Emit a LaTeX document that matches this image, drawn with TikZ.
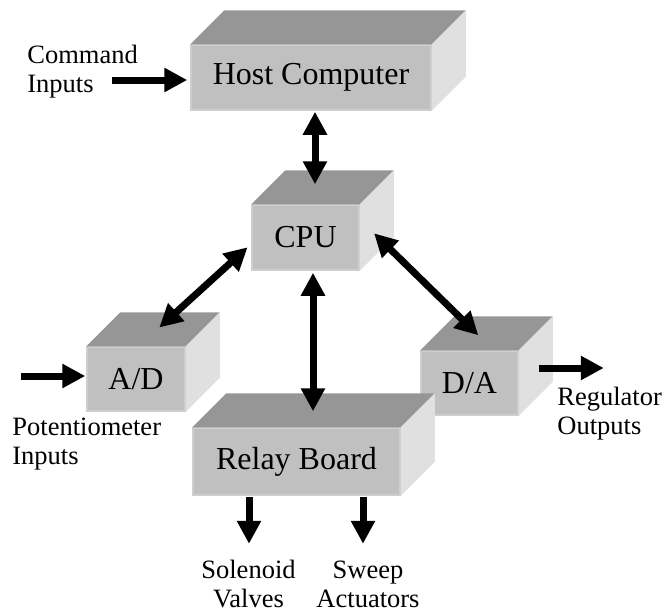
\documentclass[tikz,border=0pt]{standalone}
\usepackage{fontspec}
\setmainfont{Liberation Serif}
\usetikzlibrary{arrows.meta}

\definecolor{frontgray}{RGB}{192,192,192}
\definecolor{topgray}{RGB}{150,150,150}
\definecolor{sidegray}{RGB}{224,224,224}
\definecolor{edgegray}{RGB}{206,206,206}

\begin{document}
\begin{tikzpicture}[x=0.5pt, y=-0.5pt,
  box/.style={fill=frontgray, draw=edgegray, line width=0.75pt, inner sep=0pt,
    font=\fontsize{16}{19}\selectfont},
  lbl/.style={inner sep=0pt, font=\fontsize{13.25}{14.5}\selectfont},
  dbl/.style={{Triangle[length=11.5pt,width=11.5pt]}-{Triangle[length=11.5pt,width=11.5pt]}, line width=3.5pt},
  sgl/.style={-{Triangle[length=11.5pt,width=11.5pt]}, line width=3.5pt}]
  \useasboundingbox (0,0) rectangle (671,611);

  \node[box, minimum width=120pt, minimum height=32.5pt] (host) at (311,77.5) {Host Computer};
  \node[box, minimum width=53.5pt, minimum height=32.5pt] (cpu) at (305.5,237.5) {CPU};
  \node[box, minimum width=49pt, minimum height=32pt] (ad) at (136,379) {A/D};
  \node[box, minimum width=48.5pt, minimum height=32pt] (da) at (469.5,383) {D/A};
  \node[box, minimum width=103.5pt, minimum height=33.5pt] (relay) at (296.5,461.5) {Relay Board};

  \foreach \n in {host,cpu,ad,da,relay} {
    \fill[topgray] (\n.north west) -- ++(17pt,17pt) -- ([shift={(17pt,17pt)}]\n.north east)
      -- (\n.north east) -- cycle;
    \fill[sidegray] (\n.north east) -- ++(17pt,17pt) -- ([shift={(17pt,17pt)}]\n.south east)
      -- (\n.south east) -- cycle;
  }

  \node[lbl, align=left, anchor=north west] (cmd) at (27,45) {Command\\Inputs};
  \node[lbl, align=left, anchor=north west] (pot) at (12,418) {Potentiometer\\Inputs};
  \node[lbl, align=left, anchor=north west] (reg) at (557,387) {Regulator\\Outputs};
  \node[lbl, align=center, anchor=north] (sol) at (248.5,560) {Solenoid\\Valves};
  \node[lbl, align=center, anchor=north] (swp) at (368,561) {Sweep\\Actuators};

  \draw[dbl] ([xshift=2pt,yshift=-0.5pt]host.south) -- ([xshift=4.75pt,yshift=10pt]cpu.north);
  \draw[dbl] ([xshift=3.75pt,yshift=-1pt]cpu.south) -- ([xshift=8.25pt,yshift=8pt]relay.north);
  \draw[dbl] ([xshift=-1.85pt,yshift=-4.9pt]cpu.west) -- ([xshift=11.65pt,yshift=9.35pt]ad.north);
  \draw[dbl] ([xshift=7.15pt,yshift=2.1pt]cpu.east) -- ([xshift=4.4pt,yshift=7.5pt]da.north);

  \draw[sgl] ([xshift=-39pt,yshift=-1.25pt]host.west) -- ([xshift=-1.5pt,yshift=-1.25pt]host.west);
  \draw[sgl] ([xshift=-32.5pt,yshift=1.5pt]ad.west) -- ([xshift=-0.5pt,yshift=1.5pt]ad.west);
  \draw[sgl] ([xshift=10pt,yshift=7.5pt]da.east) -- ([xshift=42.5pt,yshift=7.5pt]da.east);
  \draw[sgl] ([xshift=-23.75pt,yshift=-0.5pt]relay.south) -- ([xshift=-23.75pt,yshift=-24pt]relay.south);
  \draw[sgl] ([xshift=33.25pt,yshift=-0.5pt]relay.south) -- ([xshift=33.25pt,yshift=-24pt]relay.south);
\end{tikzpicture}
\end{document}
